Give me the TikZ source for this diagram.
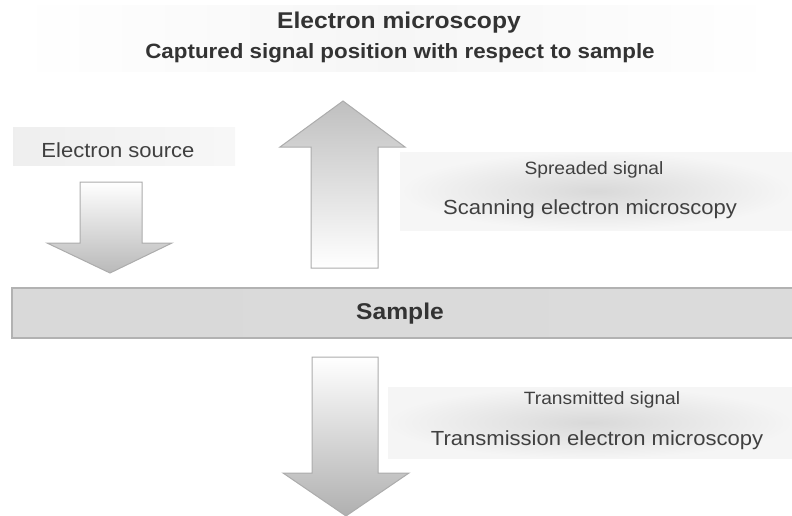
\documentclass[tikz,border=0pt]{standalone}
\usepackage{fontspec}
\setmainfont{Liberation Sans}
\newcommand\wtext[1]{\scalebox{1.08}[1]{#1}}
\tikzset{
  arrowshape/.style={draw=gray!65, line width=1pt, line join=miter},
  lbl/.style={text=black!80, inner sep=0pt},
  bigbold/.style={lbl, font=\bfseries\fontsize{22.8}{26}\selectfont},
  subbold/.style={lbl, font=\bfseries\fontsize{20.7}{24}\selectfont},
  small/.style={lbl, text=black!75, font=\fontsize{17.8}{21}\selectfont},
  medium/.style={lbl, text=black!75, font=\fontsize{20.4}{24}\selectfont},
}
\begin{document}
\begin{tikzpicture}[x=1pt,y=-1pt]
\useasboundingbox (0,0) rectangle (792,516);
% title band
\shade[left color=white, right color=white, middle color=gray!7] (15,6) rectangle (777,72);
% electron source band
\shade[left color=gray!13, right color=gray!6] (13,128) rectangle (235,165);
% spreaded band
\shade[inner color=gray!30, outer color=gray!7] (400,152) rectangle (792,230);
% transmitted band
\shade[inner color=gray!30, outer color=gray!8] (388,387) rectangle (792,458);
% sample bar
\shade[left color=gray!30, middle color=white, right color=gray!28, draw=gray!60, line width=1.2pt] (12,288) rectangle (793,338);
% arrows
\shade[arrowshape, top color=white, bottom color=gray!55]
  (80,182) -- (142,182) -- (142,243) -- (172,243) -- (110,273) -- (47,243) -- (80,243) -- cycle;
\shade[arrowshape, top color=gray!50, bottom color=white]
  (311,268) -- (311,147) -- (280,147) -- (343,101) -- (405,147) -- (378,147) -- (378,268) -- cycle;
\shade[arrowshape, top color=white, bottom color=gray!62]
  (312,357) -- (378,357) -- (378,473) -- (409,473) -- (346,516) -- (283,473) -- (312,473) -- cycle;
% texts
\node[bigbold] (t1) at (399,23) {\wtext{Electron microscopy}};
\node[subbold] (t2) at (400,53) {\wtext{Captured signal position with respect to sample}};
\node[medium] (src) at (118,150) {\wtext{Electron source}};
\node[small] (spr) at (594,170) {\wtext{Spreaded signal}};
\node[medium] (sem) at (590,209) {\wtext{Scanning electron microscopy}};
\node[bigbold] (smp) at (400,314) {\wtext{Sample}};
\node[small] (trs) at (602,400) {\wtext{Transmitted signal}};
\node[medium] (tem) at (597,440) {\wtext{Transmission electron microscopy}};
\end{tikzpicture}
\end{document}
